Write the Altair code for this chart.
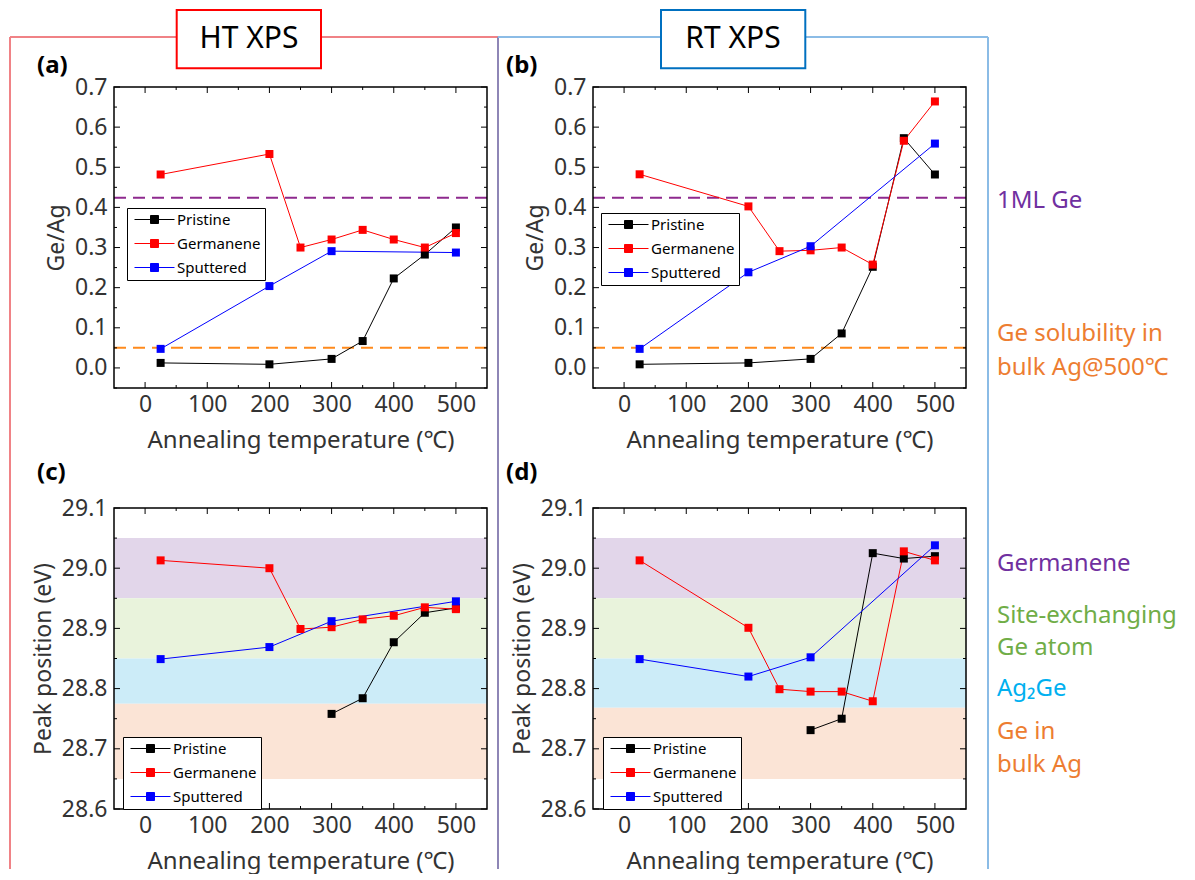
import altair as alt
import pandas as pd

FONT = "Noto Sans"
W, H = 373, 301

series_names = ["Pristine", "Germanene", "Sputtered"]
series_colors = ["#000000", "#ff0000", "#0000ff"]

# ---------------- (a) HT XPS, Ge/Ag ratio ----------------
a_pristine_x = [25, 200, 300, 350, 400, 450, 500]
a_pristine_y = [0.0125, 0.009, 0.0225, 0.067, 0.223, 0.2825, 0.35]
a_germanene_x = [25, 200, 250, 300, 350, 400, 450, 500]
a_germanene_y = [0.482, 0.533, 0.300, 0.320, 0.344, 0.320, 0.300, 0.336]
a_sputtered_x = [25, 200, 300, 500]
a_sputtered_y = [0.0475, 0.204, 0.291, 0.2875]

# ---------------- (b) RT XPS, Ge/Ag ratio ----------------
b_pristine_x = [25, 200, 300, 350, 400, 450, 500]
b_pristine_y = [0.009, 0.0125, 0.0225, 0.086, 0.252, 0.5725, 0.482]
b_germanene_x = [25, 200, 250, 300, 350, 400, 450, 500]
b_germanene_y = [0.4825, 0.4025, 0.291, 0.293, 0.300, 0.2575, 0.566, 0.664]
b_sputtered_x = [25, 200, 300, 500]
b_sputtered_y = [0.0475, 0.2383, 0.3033, 0.559]

# ---------------- (c) HT XPS, peak position ----------------
c_pristine_x = [300, 350, 400, 450, 500]
c_pristine_y = [28.758, 28.784, 28.877, 28.926, 28.934]
c_germanene_x = [25, 200, 250, 300, 350, 400, 450, 500]
c_germanene_y = [29.013, 29.000, 28.899, 28.902, 28.915, 28.921, 28.935, 28.932]
c_sputtered_x = [25, 200, 300, 500]
c_sputtered_y = [28.849, 28.869, 28.912, 28.945]

# ---------------- (d) RT XPS, peak position ----------------
d_pristine_x = [300, 350, 400, 450, 500]
d_pristine_y = [28.731, 28.750, 29.025, 29.016, 29.020]
d_germanene_x = [25, 200, 250, 300, 350, 400, 450, 500]
d_germanene_y = [29.013, 28.901, 28.799, 28.795, 28.795, 28.779, 29.028, 29.013]
d_sputtered_x = [25, 200, 300, 500]
d_sputtered_y = [28.849, 28.820, 28.852, 29.038]

# reference levels (Ge/Ag)
ref_levels = [0.424, 0.05]
ref_colors = ["#8e2a8e", "#ff8a1c"]

# energy bands (peak position)
c_band_lo = [28.95, 28.85, 28.775, 28.65]
c_band_hi = [29.05, 28.95, 28.85, 28.775]
d_band_lo = [28.95, 28.85, 28.768, 28.65]
d_band_hi = [29.05, 28.95, 28.85, 28.768]
band_colors = ["#e2d6ea", "#e9f3dc", "#ccecf8", "#fbe4d6"]

# annotations at right
ratio_notes = ["1ML Ge", "Ge solubility in", "bulk Ag@500℃"]
ratio_note_levels = [0.416, 0.084, 0.0]
ratio_note_colors = ["#7030a0", "#ed7d31", "#ed7d31"]
peak_notes = ["Germanene", "Site-exchanging", "Ge atom", "Ag₂Ge", "Ge in", "bulk Ag"]
peak_note_levels = [29.007, 28.921, 28.868, 28.799, 28.728, 28.673]
peak_note_colors = ["#7030a0", "#70ad47", "#70ad47", "#00b0f0", "#ed7d31", "#ed7d31"]

x_major = [0, 100, 200, 300, 400, 500]
x_minor = [50, 150, 250, 350, 450]
ratio_major = [0.0, 0.1, 0.2, 0.3, 0.4, 0.5, 0.6, 0.7]
ratio_minor = [-0.05, 0.05, 0.15, 0.25, 0.35, 0.45, 0.55, 0.65]
peak_major = [28.6, 28.7, 28.8, 28.9, 29.0, 29.1]
peak_minor = [28.65, 28.75, 28.85, 28.95, 29.05]

ONE = pd.DataFrame({"k": [0]})
xscale = alt.Scale(domain=[-50, 550], nice=False, zero=False)
cscale = alt.Scale(domain=series_names, range=series_colors)

XAXIS = alt.Axis(values=x_major, ticks=False, domain=False, grid=False,
                 labelFont=FONT, labelFontSize=23, labelColor="#333333", labelPadding=5,
                 labelFlush=False, labelOverlap=False,
                 title="Annealing temperature (℃)", titleFont=FONT, titleFontSize=24,
                 titleFontWeight="normal", titleColor="#333333", titlePadding=12)


def series_df(p_x, p_y, g_x, g_y, s_x, s_y):
    parts = []
    for name, xs, ys in zip(series_names, [p_x, g_x, s_x], [p_y, g_y, s_y]):
        parts.append(pd.DataFrame({"x": xs, "y": ys, "series": name}))
    return pd.concat(parts, ignore_index=True)


def hline(x1, x2, y, color, w=2):
    return alt.Chart(ONE).mark_rule(color=color, strokeWidth=w).encode(
        x=alt.value(x1), x2=alt.value(x2), y=alt.value(y))


def vline(x, y1, y2, color, w=2):
    return alt.Chart(ONE).mark_rule(color=color, strokeWidth=w).encode(
        x=alt.value(x), y=alt.value(y1), y2=alt.value(y2))


def box(x1, x2, y1, y2, color):
    return alt.Chart(ONE).mark_rect(fill="white", stroke=color, strokeWidth=2).encode(
        x=alt.value(x1), x2=alt.value(x2), y=alt.value(y1), y2=alt.value(y2))


def label(text, x, y, size, weight="normal", align="left", color="black"):
    return alt.Chart(ONE).mark_text(text=text, font=FONT, fontSize=size, fontWeight=weight,
                                    align=align, baseline="middle", color=color).encode(
        x=alt.value(x), y=alt.value(y))


def panel(data, ydom, ymaj, ymin, ytitle, leg_xy, bands=None, refs=False, notes=None, decor=()):
    ys = alt.Scale(domain=ydom, nice=False, zero=False)
    yaxis = alt.Axis(values=ymaj, format=".1f", ticks=False, domain=False, grid=False,
                     labelFont=FONT, labelFontSize=23, labelColor="#333333", labelPadding=7,
                     labelFlush=False, labelOverlap=False,
                     title=ytitle, titleFont=FONT, titleFontSize=23,
                     titleFontWeight="normal", titleColor="#333333", titlePadding=6)

    def Y(field):
        return alt.Y(field, scale=ys, axis=yaxis)

    def X(field):
        return alt.X(field, scale=xscale, axis=XAXIS)

    layers = []
    if bands is not None:
        lo, hi = bands
        for l, h, c in zip(lo, hi, band_colors):
            layers.append(alt.Chart(pd.DataFrame({"y": [l], "y2": [h]})).mark_rect(color=c).encode(
                y=Y("y:Q"), y2="y2:Q"))
    if refs:
        for v, c in zip(ref_levels, ref_colors):
            layers.append(alt.Chart(pd.DataFrame({"y": [v]})).mark_rule(
                strokeWidth=2, strokeDash=[12, 7], color=c).encode(y=Y("y:Q")))

    leg = alt.Legend(
        title=None, orient="none", legendX=leg_xy[0], legendY=leg_xy[1],
        symbolType="M-5,0H5M-1,-1H1V1H-1Z", symbolSize=64, symbolStrokeWidth=1,
        symbolOffset=16, labelOffset=15, labelFont=FONT, labelFontSize=15,
        labelColor="black", rowPadding=8, padding=4, strokeColor="black",
        fillColor="white", cornerRadius=0, symbolOpacity=1)
    color = alt.Color("series:N", scale=cscale, legend=leg)
    layers.append(alt.Chart(data).mark_line(strokeWidth=1).encode(
        x=X("x:Q"), y=Y("y:Q"), color=color))
    layers.append(alt.Chart(data).mark_point(shape="square", filled=True, size=64, opacity=1).encode(
        x=X("x:Q"), y=Y("y:Q"), color=color))

    def xt(vals, y1, y2):
        return alt.Chart(pd.DataFrame({"x": vals})).mark_rule(color="black", strokeWidth=1).encode(
            x=X("x:Q"), y=alt.value(y1), y2=alt.value(y2))

    def yt(vals, x1, x2):
        return alt.Chart(pd.DataFrame({"y": vals})).mark_rule(color="black", strokeWidth=1).encode(
            y=Y("y:Q"), x=alt.value(x1), x2=alt.value(x2))

    layers += [xt(x_major, H, H - 6), xt(x_minor, H, H - 3), xt(x_major, 0, 6), xt(x_minor, 0, 3),
               yt(ymaj, 0, 6), yt(ymin, 0, 3), yt(ymaj, W, W - 6), yt(ymin, W, W - 3)]
    layers.append(alt.Chart(ONE).mark_rect(fillOpacity=0, stroke="black", strokeWidth=1.5).encode(
        x=alt.value(0), x2=alt.value(W), y=alt.value(0), y2=alt.value(H)))

    if notes is not None:
        texts, levels, colors = notes
        for t, v, c in zip(texts, levels, colors):
            layers.append(alt.Chart(pd.DataFrame({"y": [v], "t": [t]})).mark_text(
                align="left", baseline="middle", font=FONT, fontSize=24, color=c).encode(
                x=alt.value(W + 31), y=Y("y:Q"), text="t:N"))
    layers += list(decor)
    return alt.layer(*layers).properties(width=W, height=H)


RED_LINE = "#f08286"
BLUE_LINE = "#8bbce6"
MID_LINE = "#8e86b6"

decor_a = [
    vline(-104, -50, 782, RED_LINE), hline(-104, 384, -50, RED_LINE),
    vline(384, -50, 782, MID_LINE),
    box(62.7, 207, -77, -18.7, "#ff0000"), label("HT XPS", 135, -48, 30, align="center"),
    label("(a)", -77, -21, 24, weight="bold"),
]
decor_b = [
    hline(-95, 395, -50, BLUE_LINE), vline(395, -50, 782, BLUE_LINE),
    box(68, 212.3, -77, -18.7, "#0070c0"), label("RT XPS", 140, -48, 30, align="center"),
    label("(b)", -87, -21, 24, weight="bold"),
]
decor_c = [label("(c)", -77, -35, 24, weight="bold")]
decor_d = [label("(d)", -87, -35, 24, weight="bold")]

pa = panel(series_df(a_pristine_x, a_pristine_y, a_germanene_x, a_germanene_y, a_sputtered_x, a_sputtered_y),
           [-0.05, 0.7], ratio_major, ratio_minor, "Ge/Ag", (13, 121), refs=True, decor=decor_a)
pb = panel(series_df(b_pristine_x, b_pristine_y, b_germanene_x, b_germanene_y, b_sputtered_x, b_sputtered_y),
           [-0.05, 0.7], ratio_major, ratio_minor, "Ge/Ag", (8, 126), refs=True,
           notes=(ratio_notes, ratio_note_levels, ratio_note_colors), decor=decor_b)
pc = panel(series_df(c_pristine_x, c_pristine_y, c_germanene_x, c_germanene_y, c_sputtered_x, c_sputtered_y),
           [28.6, 29.1], peak_major, peak_minor, "Peak position (eV)", (9, 229),
           bands=(c_band_lo, c_band_hi), decor=decor_c)
pd_ = panel(series_df(d_pristine_x, d_pristine_y, d_germanene_x, d_germanene_y, d_sputtered_x, d_sputtered_y),
            [28.6, 29.1], peak_major, peak_minor, "Peak position (eV)", (10, 229),
            bands=(d_band_lo, d_band_hi),
            notes=(peak_notes, peak_note_levels, peak_note_colors), decor=decor_d)

chart = alt.concat(pa, pb, pc, pd_, columns=2, spacing={"row": 120, "column": 106},
                   bounds="flush").resolve_scale(color="independent").resolve_legend(
    color="independent").properties(padding=0, background="white").configure_view(
    stroke="transparent").configure_legend(labelFont=FONT, labelFontSize=15, labelColor="black")

chart.save("out.html", embed_options={"renderer": "svg", "actions": False})
